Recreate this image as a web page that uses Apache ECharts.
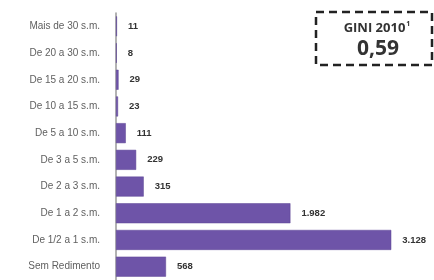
<!DOCTYPE html>
<html>
<head>
<meta charset="utf-8">
<script src="https://cdn.jsdelivr.net/npm/echarts@6/dist/echarts.min.js"></script>
<style>
  html, body { margin: 0; padding: 0; background: #fff; }
  #chart { width: 434px; height: 280px; }
</style>
</head>
<body>
<div id="chart"></div>
<script>
// faixas de rendimento (de cima para baixo)
const categories = [
  'Mais de 30 s.m.', 'De 20 a 30 s.m.', 'De 15 a 20 s.m.', 'De 10 a 15 s.m.',
  'De 5 a 10 s.m.', 'De 3 a 5 s.m.', 'De 2 a 3 s.m.', 'De 1 a 2 s.m.',
  'De 1/2 a 1 s.m.', 'Sem Redimento'
]
const values = [11, 8, 29, 23, 111, 229, 315, 1982, 3128, 568]
const giniTitle = 'GINI 2010'
const giniValue = '0,59'

const fmt = v => v.toLocaleString('pt-BR')

const chart = echarts.init(document.getElementById('chart'))
chart.setOption({
  animation: false,
  grid: { left: 116, right: 10, top: 13, height: 270 },
  xAxis: {
    type: 'value', min: 0, max: 3500, show: false
  },
  yAxis: {
    type: 'category',
    data: categories,
    inverse: true,
    axisLine: { lineStyle: { color: '#9a9a9a', width: 1.5 } },
    axisTick: { length: 3, lineStyle: { color: '#9a9a9a' } },
    axisLabel: {
      fontFamily: 'Liberation Sans', fontSize: 10, color: '#606060', margin: 16
    }
  },
  series: [{
    type: 'bar',
    data: values,
    barWidth: 20,
    itemStyle: { color: '#6e54a8', borderColor: '#5d4495', borderWidth: 0.5 },
    label: {
      show: true, position: 'right', distance: 11,
      formatter: p => fmt(p.value),
      fontFamily: 'Liberation Sans', fontWeight: 'bold', fontSize: 9.5, color: '#333'
    }
  }],
  graphic: [
    {
      type: 'rect',
      shape: { x: 316, y: 12, width: 116, height: 53 },
      style: { fill: 'none', stroke: '#222', lineWidth: 2.5, lineDash: [8, 5] }
    },
    {
      type: 'text', x: 377, y: 28,
      style: {
        text: '{t|' + giniTitle + '}{s|1}',
        align: 'center', verticalAlign: 'middle',
        rich: {
          t: { fontFamily: 'Open Sans', fontWeight: 'bold', fontSize: 13, fill: '#333' },
          s: { fontFamily: 'Open Sans', fontWeight: 'bold', fontSize: 7, fill: '#333', verticalAlign: 'top', padding: [0, 0, 9, 1] }
        }
      }
    },
    {
      type: 'text', x: 378, y: 49,
      style: {
        text: giniValue, align: 'center', verticalAlign: 'middle',
        fontFamily: 'Open Sans', fontWeight: 'bold', fontSize: 21, fill: '#333'
      }
    }
  ]
})
</script>
</body>
</html>
